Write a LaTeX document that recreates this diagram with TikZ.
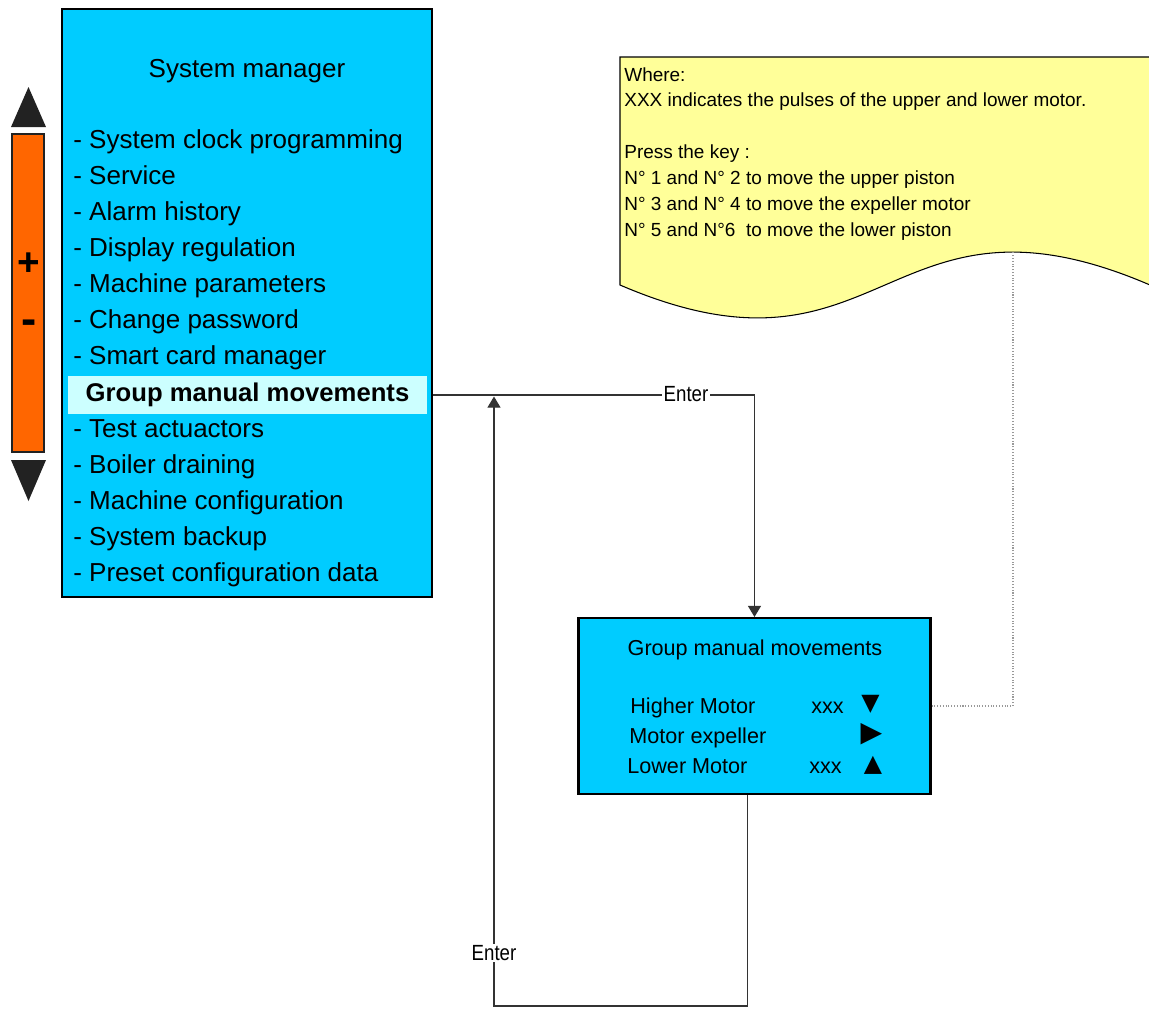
\documentclass[tikz,border=0pt]{standalone}
\usepackage{fontspec}
\setmainfont{Liberation Sans}
\newfontfamily\symfont{DejaVu Sans}
\newfontfamily\narrowsans[FakeStretch=0.85]{Liberation Sans}
\usetikzlibrary{arrows.meta,positioning}
\definecolor{screenblue}{HTML}{00CCFF}
\definecolor{selcyan}{HTML}{CCFFFF}
\definecolor{keyorange}{HTML}{FF6600}
\definecolor{notefill}{HTML}{FFFF99}
\definecolor{keygray}{HTML}{222222}

\begin{document}
\begin{tikzpicture}[x=0.02cm,y=-0.02cm,>={Triangle[length=6.3pt,width=7.4pt]},
  screen/.style={draw=black,line width=1.2pt,fill=screenblue,inner sep=0pt},
  menuitem/.style={anchor=base west,inner sep=0pt,font=\fontsize{14.8}{17}\selectfont},
  rowtext/.style={anchor=base west,inner sep=0pt,font=\fontsize{12.3}{15}\selectfont},
  keysym/.style={inner sep=0pt,font=\symfont\fontsize{13.5}{15}\selectfont},
  link/.style={draw=black!80,line width=0.6pt},
  hint/.style={draw=black!40,line width=0.6pt,densely dotted},
  enterlbl/.style={fill=white,inner sep=1pt,font=\narrowsans\fontsize{12.5}{14}\selectfont}]
  \useasboundingbox (0,0) rectangle (1149,1008);
  \clip (0,0) rectangle (1149,1008);

  % scroll keys
  \fill[keygray] (11,127) -- (28.5,87) -- (46,127) -- cycle;
  \node[draw=keygray,line width=1.2pt,fill=keyorange,minimum width=0.64cm,minimum height=6.36cm,inner sep=0pt] (scrollbar) at (28,293) {};
  \fill[keygray] (11,460) -- (46,460) -- (28.5,501) -- cycle;
  \node[anchor=base,inner sep=0pt,font=\bfseries\fontsize{22}{24}\selectfont] (plus) at (28.3,275) {+};
  \node[anchor=base,inner sep=0pt,font=\bfseries\fontsize{26}{28}\selectfont] (minus) at (28.7,334) {-};

  % system manager screen
  \node[screen,minimum width=7.4cm,minimum height=11.76cm] (sysmgr) at (247,303) {};
  \node[anchor=base,inner sep=0pt,font=\fontsize{14.8}{17}\selectfont] (sysmgrtitle) at (247,77) {System manager};
  \foreach \txt [count=\i] in {System clock programming,Service,Alarm history,Display regulation,Machine parameters,Change password,Smart card manager}
    \node[menuitem] (itemA\i) at (73,{112+36*\i}) {- \txt};
  \node[fill=selcyan,minimum width=7.18cm,minimum height=0.76cm,inner sep=0pt,font=\bfseries\fontsize{14.6}{17}\selectfont] (hilite) at (247.5,395) {Group manual movements};
  \foreach \txt [count=\i] in {Test actuactors,Boiler draining,Machine configuration,System backup,Preset configuration data}
    \node[menuitem] (itemB\i) at (73,{401+36*\i}) {- \txt};

  % note
  \filldraw[fill=notefill,draw=black,line width=0.6pt] (620,285) -- (620,57) -- (1150,57) -- (1150,285) .. controls (885,171) and (885,399) .. (620,285) -- cycle;
  \node[anchor=north west,align=left,inner sep=0pt,font=\fontsize{10.8}{14.7}\selectfont] (notetext) at (624,67)
    {Where:\\XXX indicates the pulses of the upper and lower motor.\\[14.7pt]
     Press the key :\\N° 1 and N° 2 to move the upper piston\\N° 3 and N° 4 to move the expeller motor\\N° 5 and N°6 ~to move the lower piston};

  % group manual movements screen
  \node[screen,minimum width=7.04cm,minimum height=3.52cm] (gmmbox) at (754.5,706) {};
  \node[anchor=base,inner sep=0pt,font=\fontsize{12.3}{15}\selectfont] (gmmtitle) at (755,655) {Group manual movements};
  \node[rowtext] (higher) at (630,713) {Higher Motor};
  \node[rowtext] (expeller) at (629,743) {Motor expeller};
  \node[rowtext] (lower) at (627,773) {Lower Motor};
  \node[rowtext] (higherval) at (811,713) {xxx};
  \node[rowtext] (lowerval) at (809,773) {xxx};
  \node[keysym] (keydown) at (870.5,704) {▼};
  \node[keysym,font=\symfont\fontsize{16}{18}\selectfont] (keyright) at (871.5,734.5) {▶};
  \node[keysym] (keyup) at (873,765.5) {▲};

  % connectors
  \coordinate (notetip) at (1013,252);
  \coordinate (retcorner) at (494,1006);
  \coordinate (rettop) at (494,396.5);
  \draw[link,->] (sysmgr.east |- hilite) -| (gmmbox.north);
  \node[enterlbl] (enter1) at (686,394) {Enter};
  \draw[link,->] ([xshift=-0.14cm]gmmbox.south) |- (retcorner) -- (rettop);
  \node[enterlbl] (enter2) at (494,953) {Enter};
  \draw[hint] (gmmbox.east) -| (notetip);
\end{tikzpicture}
\end{document}
